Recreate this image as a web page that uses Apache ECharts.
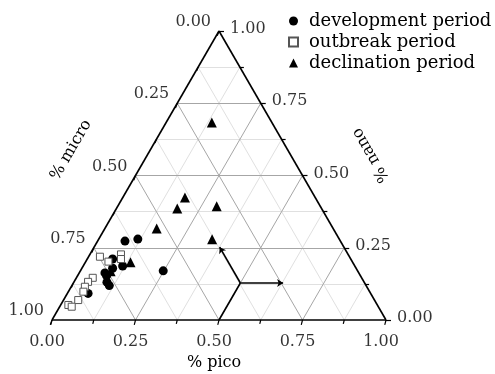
<!DOCTYPE html>
<html><head><meta charset="utf-8">
<script src="https://cdn.jsdelivr.net/npm/echarts@6/dist/echarts.min.js"></script>
<style>html,body{margin:0;padding:0;background:#fff}#c{width:495px;height:374px}</style>
</head><body><div id="c"></div>
<script>
// Ternary values: [pico, micro, nano]
const tickValues = [0, 0.25, 0.5, 0.75, 1];
const tickLabels = ['0.00', '0.25', '0.50', '0.75', '1.00'];
const minorValues = [0.125, 0.375, 0.625, 0.875];
const seriesNames = ['development period', 'outbreak period', 'declination period'];
const development = [
  [0.082, 0.645, 0.273], [0.117, 0.603, 0.280], [0.248, 0.582, 0.170],
  [0.076, 0.713, 0.211], [0.118, 0.695, 0.187], [0.092, 0.729, 0.179],
  [0.087, 0.760, 0.153], [0.112, 0.769, 0.119], [0.062, 0.846, 0.092],
  [0.099, 0.770, 0.131], [0.077, 0.760, 0.163]
];
const outbreak = [
  [0.034, 0.747, 0.219], [0.068, 0.730, 0.202], [0.093, 0.680, 0.227],
  [0.101, 0.688, 0.211], [0.049, 0.805, 0.146], [0.042, 0.826, 0.132],
  [0.041, 0.844, 0.115], [0.045, 0.857, 0.098], [0.044, 0.887, 0.069],
  [0.023, 0.925, 0.052], [0.036, 0.918, 0.046]
];
const declination = [
  [0.137, 0.180, 0.683], [0.186, 0.390, 0.424], [0.182, 0.432, 0.386],
  [0.296, 0.310, 0.394], [0.155, 0.528, 0.317], [0.340, 0.381, 0.279],
  [0.135, 0.665, 0.200], [0.091, 0.740, 0.169]
];
// direction-indicator arrows (ternary coords)
const arrowJunction = [0.5, 0.372, 0.128];
const arrowTips = [[0.628, 0.244, 0.128], [0.376, 0.372, 0.252]];
const arrowStemEnd = [0.5, 0.5, 0.0];

const FONT = '"DejaVu Serif", serif';
const GRID = {left: 52, right: 109, top: 31, bottom: 54};
const SX = 495 - GRID.left - GRID.right;
const SY = 374 - GRID.top - GRID.bottom;

function xy(p, n) { return [p + n / 2, n]; }
function tp(t) { return xy(t[0], t[2]); }
function seg(a, b) { return {coords: [a, b]}; }
function pxOff(pt, dx, dy) { return [pt[0] + dx / SX, pt[1] - dy / SY]; }

function gridSegs(vals) {
  const out = [];
  vals.forEach(t => {
    out.push(seg(xy(0, t), xy(1 - t, t)));        // nano const
    out.push(seg(xy(t, 0), xy(t, 1 - t)));        // pico const
    out.push(seg(xy(1 - t, 0), xy(0, 1 - t)));    // micro const
  });
  return out;
}
const majorInner = [0.25, 0.5, 0.75];
const allTicks = [0, 0.125, 0.25, 0.375, 0.5, 0.625, 0.75, 0.875, 1];

const tickSegs = [];
allTicks.forEach((t, i) => {
  const len = (i % 2 === 0) ? 5 : 4;
  let b = xy(t, 0);
  tickSegs.push(seg(b, pxOff(b, -0.25 * len, 0.97 * len)));
  let r = xy(1 - t, t);
  tickSegs.push(seg(r, pxOff(r, len, 0)));
  let l = xy(0, 1 - t);
  tickSegs.push(seg(l, pxOff(l, -0.35 * len, 0.94 * len)));
});

function lineSeries(data, color, width, extra) {
  return Object.assign({
    type: 'lines', coordinateSystem: 'cartesian2d', silent: true, clip: false,
    polyline: false, data: data, z: 2,
    lineStyle: {color: color, width: width, opacity: 1}
  }, extra || {});
}

function labelSeries(points, texts, align, offset) {
  return {
    type: 'scatter', silent: true, clip: false, symbolSize: 1, z: 5,
    itemStyle: {color: 'transparent'},
    data: points.map((p, i) => ({value: p, name: texts[i]})),
    label: {show: true, position: 'inside', formatter: '{b}', align: align,
      verticalAlign: 'middle', offset: offset, color: '#000',
      fontFamily: FONT, fontSize: 16}
  };
}

const chart = echarts.init(document.getElementById('c'), null, {renderer: 'canvas'});
chart.setOption({
  animation: false,
  backgroundColor: '#fff',
  grid: GRID,
  xAxis: {type: 'value', min: 0, max: 1, show: false},
  yAxis: {type: 'value', min: 0, max: 1, show: false},
  legend: {
    orient: 'vertical', left: 283, top: 7, itemWidth: 9, itemHeight: 9, itemGap: 3,
    data: seriesNames,
    textStyle: {fontFamily: FONT, fontSize: 18, color: '#000', lineHeight: 18, padding: [0, 0, 0, 6]}
  },
  series: [
    lineSeries(gridSegs(minorValues), '#e0e0e0', 1),
    lineSeries(gridSegs(majorInner), '#a6a6a6', 1),
    lineSeries([seg(xy(0, 0), xy(1, 0)), seg(xy(1, 0), xy(0, 1)), seg(xy(0, 1), xy(0, 0))], '#000', 1.6, {z: 3}),
    lineSeries(tickSegs, '#000', 1.2, {z: 3}),
    lineSeries(arrowTips.map(t => seg(tp(arrowJunction), tp(t))), '#000', 1.6,
      {z: 4, symbol: ['none', 'arrow'], symbolSize: 6}),
    lineSeries([seg(tp(arrowJunction), tp(arrowStemEnd))], '#000', 1.6, {z: 4}),
    labelSeries(tickValues.map(t => xy(t, 0)), tickLabels, 'center', [-5, 22]),
    labelSeries(tickValues.map(t => xy(1 - t, t)), tickLabels, 'left', [11, -2]),
    labelSeries(tickValues.map(t => xy(0, 1 - t)), tickLabels, 'right', [-8, -9]),
    {name: seriesNames[0], type: 'scatter', symbol: 'circle', symbolSize: 9, z: 6,
      itemStyle: {color: '#000', opacity: 1}, data: development.map(tp)},
    {name: seriesNames[1], type: 'scatter', symbol: 'rect', symbolSize: 7, z: 6,
      itemStyle: {color: '#fff', borderColor: '#555', borderWidth: 1, opacity: 1}, data: outbreak.map(tp)},
    {name: seriesNames[2], type: 'scatter', symbol: 'triangle', symbolSize: 10, z: 6,
      itemStyle: {color: '#000', opacity: 1}, data: declination.map(tp)}
  ],
  graphic: [
    {type: 'text', x: 214, y: 363, style: {text: '% pico', font: '16px ' + FONT, fill: '#000', textAlign: 'center', textVerticalAlign: 'middle'}},
    {type: 'text', x: 71, y: 150, rotation: Math.PI / 3, style: {text: '% micro', font: '16px ' + FONT, fill: '#000', textAlign: 'center', textVerticalAlign: 'middle'}},
    {type: 'text', x: 371, y: 155, rotation: 2 * Math.PI / 3, style: {text: '% nano', font: '16px ' + FONT, fill: '#000', textAlign: 'center', textVerticalAlign: 'middle'}}
  ]
});
</script></body></html>
